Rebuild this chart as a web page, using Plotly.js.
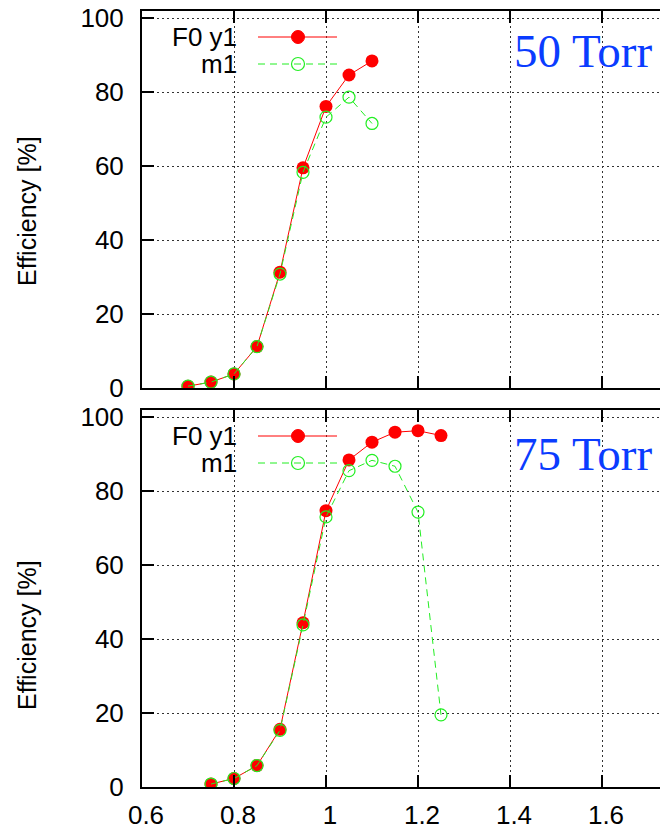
<!DOCTYPE html>
<html>
<head>
<meta charset="utf-8">
<script src="https://cdn.plot.ly/plotly-3.0.1.min.js"></script>
<style>
  html, body { margin: 0; padding: 0; background: #fff; overflow: hidden; }
  #chart { width: 660px; height: 831px; }
</style>
</head>
<body>
<div id="chart"></div>
<script>
// Efficiency vs. ratio at two pressures (50 Torr and 75 Torr)
const xTop  = [0.70, 0.75, 0.80, 0.85, 0.90, 0.95, 1.00, 1.05, 1.10];
const f0Top = [0.5, 1.6, 3.8, 11.2, 31.3, 59.5, 76.1, 84.6, 88.4];
const m1Top = [0.5, 1.6, 3.8, 11.2, 30.8, 58.3, 73.2, 78.6, 71.5];

const xBot  = [0.75, 0.80, 0.85, 0.90, 0.95, 1.00, 1.05, 1.10, 1.15, 1.20, 1.25];
const f0Bot = [0.8, 2.3, 5.8, 15.6, 44.4, 74.7, 88.4, 93.2, 95.9, 96.3, 95.0];
const m1Bot = [0.8, 2.3, 5.8, 15.3, 43.8, 73.0, 85.5, 88.3, 86.7, 74.3, 19.5];

const seriesNames = ['F0 y1', 'm1'];
const panelLabels = ['50 Torr', '75 Torr'];
const yTickVals = [0, 20, 40, 60, 80, 100];
const xTickVals = [0.6, 0.8, 1.0, 1.2, 1.4, 1.6];
const xTickText = ['0.6', '0.8', '1', '1.2', '1.4', '1.6'];

const RED = '#ff0000';
const GREEN = '#22ee22';
const BLUE = 'rgb(10,60,255)';
const FONT = 'Liberation Sans, Arial, sans-serif';

function f0Trace(x, y, xa, ya) {
  return {
    x: x, y: y, xaxis: xa, yaxis: ya, type: 'scatter', mode: 'lines+markers',
    name: seriesNames[0], showlegend: false,
    line: { color: RED, width: 1 },
    marker: { color: RED, size: 13, symbol: 'circle' }
  };
}
function m1Trace(x, y, xa, ya) {
  return {
    x: x, y: y, xaxis: xa, yaxis: ya, type: 'scatter', mode: 'lines+markers',
    name: seriesNames[1], showlegend: false,
    line: { color: GREEN, width: 1, dash: '7px,5px' },
    marker: { color: GREEN, size: 12, symbol: 'circle-open', line: { color: GREEN, width: 1.2 } }
  };
}

const data = [
  f0Trace(xTop, f0Top, 'x', 'y'),
  m1Trace(xTop, m1Top, 'x', 'y'),
  f0Trace(xBot, f0Bot, 'x2', 'y2'),
  m1Trace(xBot, m1Bot, 'x2', 'y2')
];

const plotLeft = 142, plotW = 518, pxPerUnit = 460;
const xRange = [0.6, 0.6 + plotW / pxPerUnit];
const yRange = [0, 101.9];

function xAxis(anchor, labels) {
  return {
    anchor: anchor, range: xRange, domain: [0, 1],
    tickvals: xTickVals, ticktext: xTickText,
    showticklabels: labels,
    ticks: 'inside', ticklen: 12, tickwidth: 2, tickcolor: '#000',
    showline: true, linecolor: '#000', linewidth: 2, mirror: 'ticks',
    showgrid: true, gridcolor: '#333', gridwidth: 1, griddash: '2px,3px',
    zeroline: false, ticklabelstandoff: 4, ticklabelshift: 4,
    tickfont: { family: FONT, size: 26, color: '#000' }
  };
}
function yAxis(anchor, domain) {
  return {
    anchor: anchor, range: yRange, domain: domain,
    tickvals: yTickVals,
    ticks: 'inside', ticklen: 12, tickwidth: 2, tickcolor: '#000',
    showline: true, linecolor: '#000', linewidth: 2, mirror: false,
    showgrid: true, gridcolor: '#333', gridwidth: 1, griddash: '2px,3px',
    zeroline: false, ticklabelstandoff: 11,
    tickfont: { family: FONT, size: 26, color: '#000' }
  };
}

// pixel helpers for the hand-built keys and labels
const figH = 831, marginT = 11, marginB = 44;
const plotH = figH - marginT - marginB;
const px = v => (v - plotLeft) / plotW;
const py = v => (figH - marginB - v) / plotH;

const annotations = [];
const shapes = [];

function addKey(rowY, idx) {
  const textX = px(239), lineX0 = px(258), lineX1 = px(337), markX = px(298);
  annotations.push({
    xref: 'paper', yref: 'paper', x: textX, y: py(rowY),
    xanchor: 'right', yanchor: 'middle', showarrow: false,
    text: seriesNames[idx], font: { family: FONT, size: 26, color: '#000' }
  });
  const col = idx === 0 ? RED : GREEN;
  shapes.push({
    type: 'line', xref: 'paper', yref: 'paper',
    x0: lineX0, x1: lineX1, y0: py(rowY), y1: py(rowY),
    line: { color: col, width: 1, dash: idx === 0 ? 'solid' : '7px,5px' }
  });
  shapes.push({
    type: 'circle', xref: 'paper', yref: 'paper',
    xsizemode: 'pixel', ysizemode: 'pixel',
    xanchor: markX, yanchor: py(rowY),
    x0: -6.5, x1: 6.5, y0: -6.5, y1: 6.5,
    fillcolor: idx === 0 ? RED : 'rgba(0,0,0,0)',
    line: { color: col, width: idx === 0 ? 1 : 1.2 }
  });
}
addKey(37, 0); addKey(64, 1);
addKey(436, 0); addKey(463, 1);

// panel labels
annotations.push({
  xref: 'paper', yref: 'paper', x: px(654), y: py(51),
  xanchor: 'right', yanchor: 'middle', showarrow: false,
  text: panelLabels[0], font: { family: 'Liberation Serif, Times New Roman, serif', size: 47, color: BLUE }
});
annotations.push({
  xref: 'paper', yref: 'paper', x: px(654), y: py(454),
  xanchor: 'right', yanchor: 'middle', showarrow: false,
  text: panelLabels[1], font: { family: 'Liberation Serif, Times New Roman, serif', size: 47, color: BLUE }
});

// y-axis titles
[211, 635].forEach(cy => {
  annotations.push({
    xref: 'paper', yref: 'paper', x: px(27), y: py(cy),
    xanchor: 'center', yanchor: 'middle', showarrow: false, textangle: -90,
    text: 'Efficiency [%]', font: { family: FONT, size: 25, color: '#000' }
  });
});

const layout = {
  width: 660, height: 831,
  margin: { l: plotLeft, r: 0, t: marginT, b: marginB, pad: 0 },
  paper_bgcolor: '#fff', plot_bgcolor: '#fff',
  showlegend: false,
  xaxis: xAxis('y', false),
  yaxis: yAxis('x', [py(388), 1]),
  xaxis2: xAxis('y2', true),
  yaxis2: yAxis('x2', [0, py(410)]),
  annotations: annotations,
  shapes: shapes
};

Plotly.newPlot('chart', data, layout, { displayModeBar: false, staticPlot: true });
</script>
</body>
</html>
